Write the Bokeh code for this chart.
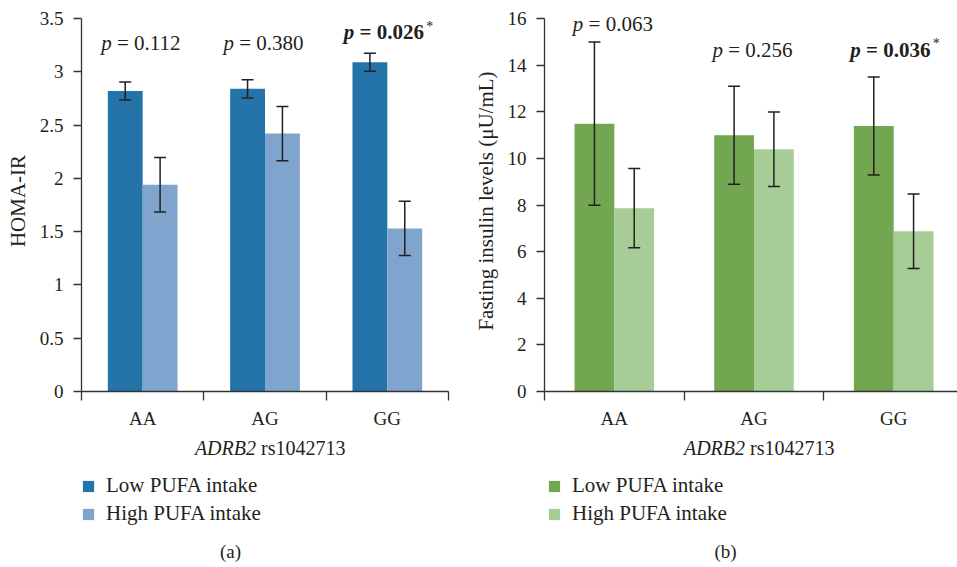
import numpy as np
from bokeh.plotting import figure
from bokeh.models import (ColumnDataSource, Whisker, TeeHead, FixedTicker, Range1d,
                          Legend, LegendItem, Label)
from bokeh.layouts import row, column
from bokeh.embed import file_html
from bokeh.resources import INLINE

# ---------------- data ----------------
genotypes = ["AA", "AG", "GG"]
series_names = ["Low PUFA intake", "High PUFA intake"]

homa_low = [2.82, 2.84, 3.09]
homa_low_err = [0.085, 0.085, 0.085]
homa_high = [1.94, 2.42, 1.53]
homa_high_err = [0.255, 0.255, 0.255]
homa_p = ["0.112", "0.380", "0.026"]
homa_sig = [False, False, True]
homa_p_y = [3.27, 3.27, 3.37]
homa_ticks = [0, 0.5, 1, 1.5, 2, 2.5, 3, 3.5]
homa_tick_labels = ["0", "0.5", "1", "1.5", "2", "2.5", "3", "3.5"]

ins_low = [11.5, 11.0, 11.4]
ins_low_err = [3.5, 2.1, 2.1]
ins_high = [7.87, 10.4, 6.88]
ins_high_err = [1.7, 1.6, 1.6]
ins_p = ["0.063", "0.256", "0.036"]
ins_sig = [False, False, True]
ins_p_y = [15.78, 14.67, 14.67]
ins_ticks = [0, 2, 4, 6, 8, 10, 12, 14, 16]
ins_tick_labels = ["0", "2", "4", "6", "8", "10", "12", "14", "16"]

FONT = "Liberation Serif"
TXT = "#231f20"
AX = "#333333"
ERR = "#231f20"
BAR_W = 0.285
NB = "\u00a0"


def make_panel(width, border_left, border_right, x_end, y_max, y_end, ticks, tick_labels,
               ylabel, low, low_err, high, high_err, colors, pvals, sig, p_y,
               panel_tag, tag_x, legend_x):
    x_range = Range1d(0, x_end)
    p = figure(width=width, height=431, output_backend="svg", toolbar_location=None,
               x_range=x_range, y_range=Range1d(0, y_end),
               min_border_left=border_left, min_border_right=border_right,
               min_border_top=10, min_border_bottom=40)
    p.outline_line_color = None
    p.xgrid.visible = False
    p.ygrid.visible = False

    centers = np.arange(len(genotypes)) + 0.5
    src = ColumnDataSource(dict(
        x_low=centers - BAR_W / 2, x_high=centers + BAR_W / 2,
        low=low, high=high,
        low_up=np.array(low) + np.array(low_err), low_dn=np.array(low) - np.array(low_err),
        high_up=np.array(high) + np.array(high_err), high_dn=np.array(high) - np.array(high_err),
    ))
    p.vbar(x="x_low", top="low", width=BAR_W, source=src, fill_color=colors[0], line_color=None)
    p.vbar(x="x_high", top="high", width=BAR_W, source=src, fill_color=colors[1], line_color=None)
    for base, up, dn in (("x_low", "low_up", "low_dn"), ("x_high", "high_up", "high_dn")):
        w = Whisker(source=src, base=base, upper=up, lower=dn, line_color=ERR,
                    line_width=1.5, level="overlay",
                    upper_head=TeeHead(size=12, line_color=ERR, line_width=1.5),
                    lower_head=TeeHead(size=12, line_color=ERR, line_width=1.5))
        p.add_layout(w)

    # axes
    xa = p.xaxis[0]
    xa.ticker = FixedTicker(ticks=list(centers), minor_ticks=list(range(len(genotypes) + 1)))
    xa.major_label_overrides = {float(c): g for c, g in zip(centers, genotypes)}
    xa.major_tick_out = 0
    xa.major_tick_in = 0
    xa.minor_tick_out = 9
    xa.minor_tick_in = 0
    xa.major_label_standoff = 7
    ya = p.yaxis[0]
    ya.bounds = (0, y_max)
    ya.ticker = FixedTicker(ticks=ticks)
    ya.major_label_overrides = {t: l for t, l in zip(ticks, tick_labels)}
    ya.major_tick_out = 8
    ya.major_tick_in = 0
    ya.minor_tick_line_color = None
    ya.major_label_standoff = 10
    ya.axis_label = ylabel
    ya.axis_label_standoff = 7
    for ax in (xa, ya):
        ax.axis_line_color = AX
        ax.axis_line_width = 1.3
        ax.major_tick_line_color = AX
        ax.major_tick_line_width = 1.3
        ax.minor_tick_line_width = 1.3
        ax.major_label_text_font = FONT
        ax.major_label_text_font_size = "19px"
        ax.major_label_text_color = TXT
        ax.axis_label_text_font = FONT
        ax.axis_label_text_font_size = "21px"
        ax.axis_label_text_font_style = "normal"
        ax.axis_label_text_color = TXT
    xa.minor_tick_line_color = AX

    # p-value annotations
    for i, (pv, s, yy) in enumerate(zip(pvals, sig, p_y)):
        xc = i + 0.5
        style = "bold" if s else "normal"
        pstyle = "bold italic" if s else "italic"
        split = -33 if s else -31
        p.add_layout(Label(x=xc, y=yy, text="p", text_align="right", text_baseline="middle",
                           x_offset=split, text_font=FONT, text_font_size="21px",
                           text_font_style=pstyle, text_color=TXT))
        p.add_layout(Label(x=xc, y=yy, text=NB + "=" + NB + pv, text_align="left",
                           text_baseline="middle", x_offset=split, text_font=FONT,
                           text_font_size="21px", text_font_style=style, text_color=TXT))
        if s:
            p.add_layout(Label(x=xc, y=yy, text="*", text_align="left", text_baseline="middle",
                               x_offset=split + 72, y_offset=6, text_font=FONT,
                               text_font_size="14px", text_color=TXT))

    # footer: axis title, legend, panel tag
    f = figure(width=width, height=136, output_backend="svg", toolbar_location=None,
               x_range=x_range, y_range=Range1d(0, 136), x_axis_type=None, y_axis_type=None,
               min_border_left=border_left, min_border_right=border_right,
               min_border_top=0, min_border_bottom=0)
    f.outline_line_color = None
    f.xgrid.visible = False
    f.ygrid.visible = False
    f.add_layout(Label(x=1.5, y=120, text="ADRB2", text_align="right", text_baseline="middle",
                       x_offset=-9, text_font=FONT, text_font_size="20px",
                       text_font_style="italic", text_color=TXT))
    f.add_layout(Label(x=1.5, y=120, text=NB + "rs1042713", text_align="left",
                       text_baseline="middle", x_offset=-9, text_font=FONT,
                       text_font_size="20px", text_color=TXT))
    # legend keys (no visible marks: NaN placeholders just carry the swatch style)
    key_src = ColumnDataSource(dict(x=[np.nan], top=[np.nan]))
    k_low = f.vbar(x="x", top="top", width=BAR_W, source=key_src,
                   fill_color=colors[0], line_color=None)
    k_high = f.vbar(x="x", top="top", width=BAR_W, source=key_src,
                    fill_color=colors[1], line_color=None)
    legend = Legend(items=[LegendItem(label=series_names[0], renderers=[k_low]),
                           LegendItem(label=series_names[1], renderers=[k_high])],
                    location=(legend_x, 41), orientation="vertical",
                    glyph_width=14, glyph_height=14, label_standoff=11, spacing=3,
                    padding=0, margin=0, border_line_color=None, background_fill_alpha=0,
                    label_text_font=FONT, label_text_font_size="21px",
                    label_text_color=TXT)
    f.add_layout(legend)
    f.add_layout(Label(x=tag_x, y=16, x_units="screen", text=panel_tag,
                       text_align="center", text_baseline="middle", text_font=FONT,
                       text_font_size="19px", text_color=TXT))
    return column(p, f, spacing=0)


pa = make_panel(470, 81, 22, 3.0, 3.5, 3.575, homa_ticks, homa_tick_labels, "HOMA-IR",
                homa_low, homa_low_err, homa_high, homa_high_err, ("#2474a9", "#7fa5ce"),
                homa_p, homa_sig, homa_p_y, "(a)", 149, 0)
pb = make_panel(487, 73, 0, 2.957, 16, 16.357, ins_ticks, ins_tick_labels,
                "Fasting insulin levels (μU/mL)",
                ins_low, ins_low_err, ins_high, ins_high_err, ("#73a650", "#a6cd96"),
                ins_p, ins_sig, ins_p_y, "(b)", 181, 3)

layout = row(pa, pb, spacing=0)
open("out.html", "w").write(file_html(layout, INLINE))
